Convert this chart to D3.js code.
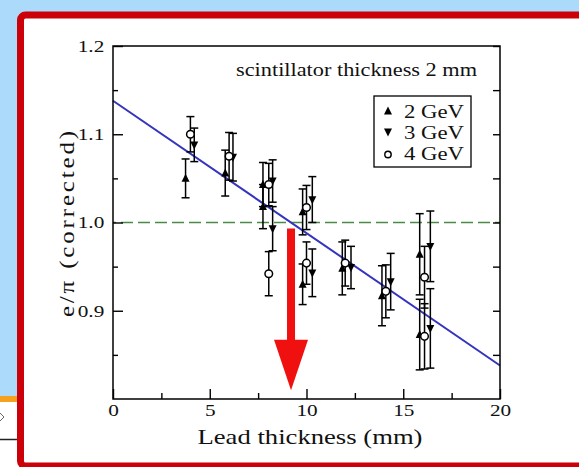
<!DOCTYPE html>
<html>
<head>
<meta charset="utf-8">
<script src="https://cdn.jsdelivr.net/npm/d3@7"></script>
<style>
  html, body { margin: 0; padding: 0; background: #fff; }
  svg { display: block; }
</style>
</head>
<body>
<svg id="chart" width="579" height="467"></svg>
<script>
// ---- data ----
const leadTicks = [0, 5, 10, 15, 20];
const leadMinorTicks = [2.5, 7.5, 12.5, 17.5];
const ratioTicks = [0.9, 1.0, 1.1, 1.2];
const ratioMinorTicks = [0.85, 0.95, 1.05, 1.15];
const seriesNames = ["2 GeV", "3 GeV", "4 GeV"];

// lead thickness (mm), e/pi ratio, error
const gev2 = [
  { x: 3.75, y: 1.050, e: 0.022 }, { x: 5.8, y: 1.056, e: 0.026 },
  { x: 7.75, y: 1.018, e: 0.025 }, { x: 7.75, y: 1.043, e: 0.025 },
  { x: 9.8, y: 1.012, e: 0.026 },  { x: 9.8, y: 0.930, e: 0.023 },
  { x: 11.85, y: 0.948, e: 0.030 }, { x: 13.9, y: 0.917, e: 0.034 },
  { x: 15.85, y: 0.964, e: 0.046 }, { x: 15.85, y: 0.873, e: 0.040 }
];
const gev3 = [
  { x: 4.2, y: 1.088, e: 0.019 },  { x: 6.2, y: 1.074, e: 0.027 },
  { x: 8.25, y: 1.047, e: 0.024 }, { x: 8.25, y: 0.993, e: 0.025 },
  { x: 10.3, y: 1.026, e: 0.026 }, { x: 10.3, y: 0.943, e: 0.027 },
  { x: 12.3, y: 0.949, e: 0.024 }, { x: 14.35, y: 0.933, e: 0.032 },
  { x: 16.4, y: 0.973, e: 0.040 }, { x: 16.4, y: 0.880, e: 0.045 }
];
const gev4 = [
  { x: 4.0, y: 1.100, e: 0.020 },  { x: 6.0, y: 1.075, e: 0.027 },
  { x: 8.05, y: 1.043, e: 0.024 }, { x: 8.05, y: 0.942, e: 0.025 },
  { x: 10.0, y: 1.017, e: 0.025 }, { x: 10.0, y: 0.954, e: 0.024 },
  { x: 12.0, y: 0.954, e: 0.026 }, { x: 14.1, y: 0.922, e: 0.030 },
  { x: 16.1, y: 0.938, e: 0.035 }, { x: 16.1, y: 0.871, e: 0.037 }
];

// straight-line fit and reference level
const fitIntercept = 1.138;
const fitSlope = -0.015;
const referenceLevel = 1.0;
const arrowBottom = 0.81;
const arrowHeadBase = 0.867;

// ---- layout ----
const svg = d3.select("#chart");
const W = 579, H = 467;
const plot = { left: 113, right: 500, top: 46, bottom: 399 };
const serif = "'Liberation Serif', 'Times New Roman', serif";
const stretchX = 1.25;

const x = d3.scaleLinear().domain([0, 20]).range([plot.left, plot.right]);
const y = d3.scaleLinear().domain([0.8, 1.2]).range([plot.bottom, plot.top]);

// slide background behind the framed figure
svg.append("rect").attr("width", W).attr("height", H).attr("fill", "#acdafb");
svg.append("rect").attr("x", 0).attr("y", 396).attr("width", 22).attr("height", 6).attr("fill", "#f5a01e");
svg.append("rect").attr("x", 0).attr("y", 402).attr("width", 22).attr("height", 70).attr("fill", "#ffffff");
svg.append("line").attr("x1", 0).attr("x2", 18).attr("y1", 439.5).attr("y2", 439.5)
  .attr("stroke", "#222").attr("stroke-width", 1.5);
svg.append("path").attr("d", "M0,413 L4,417 M0,421 L4,417").attr("stroke", "#666").attr("stroke-width", 1).attr("fill", "none");

// red frame
svg.append("rect").attr("x", 20.5).attr("y", 15).attr("width", 640).attr("height", 451)
  .attr("rx", 5).attr("fill", "#ffffff").attr("stroke", "#cc0008").attr("stroke-width", 7);

const g = svg.append("g");

// reference level
g.append("line")
  .attr("x1", x(0)).attr("x2", x(20))
  .attr("y1", y(referenceLevel)).attr("y2", y(referenceLevel))
  .attr("stroke", "#4a8a46").attr("stroke-width", 1.6)
  .attr("stroke-dasharray", "12,5").attr("stroke-dashoffset", -8);

// fit line
g.append("line")
  .attr("x1", x(0)).attr("y1", y(fitIntercept))
  .attr("x2", x(20)).attr("y2", y(fitIntercept + fitSlope * 20))
  .attr("stroke", "#3434bf").attr("stroke-width", 2);

// axes (ticks pointing inward)
function styleAxis(sel) {
  sel.select(".domain").remove();
  sel.selectAll("line").attr("stroke", "#000").attr("stroke-width", 1.4);
  sel.selectAll("text").attr("fill", "#111").attr("font-family", serif).attr("font-size", 17);
}
const axB = g.append("g").attr("transform", `translate(0,${plot.bottom})`)
  .call(d3.axisBottom(x).tickValues(leadTicks).tickSize(-10).tickPadding(5).tickFormat(d3.format("d")))
  .call(styleAxis);
axB.selectAll("text").attr("transform", `scale(${stretchX},1)`);
g.append("g").attr("transform", `translate(0,${plot.bottom})`)
  .call(d3.axisBottom(x).tickValues(leadMinorTicks).tickSize(-6).tickFormat(""))
  .call(styleAxis);

const axL = g.append("g").attr("transform", `translate(${plot.left},0)`)
  .call(d3.axisLeft(y).tickValues(ratioTicks).tickSize(-10).tickPadding(7).tickFormat(d3.format(".1f")))
  .call(styleAxis);
axL.selectAll("text").attr("transform", `scale(${stretchX},1)`);
g.append("g").attr("transform", `translate(${plot.left},0)`)
  .call(d3.axisLeft(y).tickValues(ratioMinorTicks).tickSize(-5).tickFormat(""))
  .call(styleAxis);
g.append("g").attr("transform", `translate(${plot.right},0)`)
  .call(d3.axisRight(y).tickValues(ratioTicks.concat(ratioMinorTicks)).tickSize(-7).tickFormat(""))
  .call(styleAxis);

// plot frame
g.append("rect")
  .attr("x", plot.left).attr("y", plot.top)
  .attr("width", plot.right - plot.left).attr("height", plot.bottom - plot.top)
  .attr("fill", "none").attr("stroke", "#000").attr("stroke-width", 1.5);

// markers
const upTri = "M0,-4.6L4,3.4L-4,3.4Z";
const downTri = "M0,4.6L4,-3.4L-4,-3.4Z";
const capHalf = 4;

function drawSeries(data, kind) {
  const s = g.append("g");
  const pts = s.selectAll("g").data(data).join("g");
  pts.append("line")
    .attr("x1", d => x(d.x)).attr("x2", d => x(d.x))
    .attr("y1", d => y(d.y + d.e)).attr("y2", d => y(d.y - d.e))
    .attr("stroke", "#000").attr("stroke-width", 1.5);
  [1, -1].forEach(sgn => {
    pts.append("line")
      .attr("x1", d => x(d.x) - capHalf).attr("x2", d => x(d.x) + capHalf)
      .attr("y1", d => y(d.y + sgn * d.e)).attr("y2", d => y(d.y + sgn * d.e))
      .attr("stroke", "#000").attr("stroke-width", 1.5);
  });
  if (kind === "circle") {
    pts.append("circle").attr("cx", d => x(d.x)).attr("cy", d => y(d.y)).attr("r", 3.8)
      .attr("fill", "#fff").attr("stroke", "#000").attr("stroke-width", 1.5);
  } else {
    pts.append("path").attr("d", kind === "up" ? upTri : downTri)
      .attr("transform", d => `translate(${x(d.x)},${y(d.y)})`).attr("fill", "#000");
  }
}
drawSeries(gev2, "up");
drawSeries(gev3, "down");
drawSeries(gev4, "circle");

// annotation text
g.append("text")
  .attr("x", 236).attr("y", 76)
  .attr("font-family", serif).attr("font-size", 19).attr("fill", "#111")
  .attr("textLength", 241).attr("lengthAdjust", "spacingAndGlyphs")
  .text("scintillator thickness 2 mm");

// legend
const lg = g.append("g");
lg.append("rect").attr("x", 374).attr("y", 96).attr("width", 97).attr("height", 71)
  .attr("fill", "#fff").attr("stroke", "#000").attr("stroke-width", 1.3);
const kinds = ["up", "down", "circle"];
seriesNames.forEach((name, i) => {
  const cy = 111 + i * 21;
  if (kinds[i] === "circle") {
    lg.append("circle").attr("cx", 388).attr("cy", cy + 1.5).attr("r", 3.2)
      .attr("fill", "#fff").attr("stroke", "#000").attr("stroke-width", 1.4);
  } else {
    lg.append("path").attr("d", kinds[i] === "up" ? upTri : downTri)
      .attr("transform", `translate(388,${cy})`).attr("fill", "#000");
  }
  lg.append("text").attr("x", 404).attr("y", cy + 6.5)
    .attr("font-family", serif).attr("font-size", 18).attr("fill", "#111")
    .attr("textLength", 60).attr("lengthAdjust", "spacingAndGlyphs")
    .text(name);
});

// axis titles
g.append("text")
  .attr("x", 310).attr("y", 444).attr("text-anchor", "middle")
  .attr("font-family", serif).attr("font-size", 22).attr("fill", "#111")
  .attr("textLength", 225).attr("lengthAdjust", "spacingAndGlyphs")
  .text("Lead thickness (mm)");
g.append("text")
  .attr("transform", `translate(74,224) rotate(-90) scale(${stretchX},1)`).attr("text-anchor", "middle")
  .attr("font-family", serif).attr("font-size", 20).attr("fill", "#111")
  .attr("textLength", 149).attr("lengthAdjust", "spacing")
  .text("e/π (corrected)");

// arrow at the crossing of the fit with the reference level
const crossX = (referenceLevel - fitIntercept) / fitSlope;
const ax = x(crossX);
svg.append("rect")
  .attr("x", ax - 4).attr("y", y(referenceLevel) + 6)
  .attr("width", 8).attr("height", y(arrowHeadBase) - y(referenceLevel) - 5)
  .attr("fill", "#f01010");
svg.append("path")
  .attr("d", `M${ax - 17},${y(arrowHeadBase)}L${ax + 17},${y(arrowHeadBase)}L${ax},${y(arrowBottom)}Z`)
  .attr("fill", "#f01010");
</script>
</body>
</html>
